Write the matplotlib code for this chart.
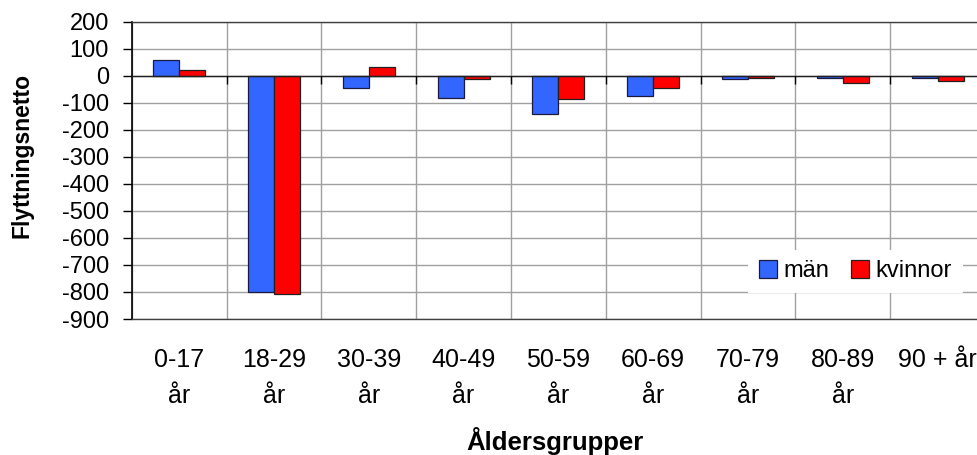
import matplotlib
matplotlib.use("Agg")
import matplotlib.pyplot as plt
import numpy as np

categories = ["0-17\når", "18-29\når", "30-39\når", "40-49\når", "50-59\når",
              "60-69\når", "70-79\når", "80-89\når", "90 + år"]
man = [57, -800, -44, -81, -143, -76, -13, -7, -7]
kvinnor = [20, -808, 31, -13, -87, -44, -7, -25, -19]
yticks = list(range(-900, 201, 100))

plt.rcParams['font.family'] = ['Liberation Sans', 'DejaVu Sans']

fig = plt.figure(figsize=(9.78, 4.55), dpi=100)
ax = fig.add_axes([0.1347, 0.2989, 1.0072 - 0.1347, 0.9523 - 0.2989])

x = np.arange(len(categories))
w = 0.275
ax.bar(x - w / 2, man, width=w, color='#3366FF', edgecolor='#1a1a40', linewidth=0.9,
       label='män', zorder=3)
ax.bar(x + w / 2, kvinnor, width=w, color='#FF0000', edgecolor='#202020', linewidth=0.9,
       label='kvinnor', zorder=3)

ax.set_xlim(-0.5, len(categories) - 0.5)
ax.set_ylim(-900, 200)
ax.set_yticks(yticks)
ax.set_yticklabels([str(v) for v in yticks], fontsize=17)
ax.tick_params(axis='y', direction='out', length=6.3, width=1, color='black', pad=10)

ax.set_xticks(x)
ax.set_xticklabels(categories, fontsize=18, linespacing=1.6)
ax.tick_params(axis='x', length=0, pad=21)
bounds = np.arange(len(categories) + 1) - 0.5
ax.set_xticks(bounds, minor=True)
ax.tick_params(axis='x', which='minor', length=0)

ax.grid(True, which='major', axis='y', color='#a0a0a0', linewidth=1, zorder=0)
ax.grid(True, which='minor', axis='x', color='#a0a0a0', linewidth=1, zorder=0)

ax.axhline(0, color='#202020', linewidth=1, zorder=4)
ax.vlines(bounds[1:-1], -30, 0, color='black', linewidth=1, zorder=4)

for s in ['top', 'bottom', 'right']:
    ax.spines[s].set_color('#404040')
    ax.spines[s].set_linewidth(1)
ax.spines['left'].set_color('black')
ax.spines['left'].set_linewidth(1.2)

ax.set_ylabel('Flyttningsnetto', fontsize=16.5, fontweight='bold')
ax.set_xlabel('Åldersgrupper', fontsize=18.5, fontweight='bold')
ax.xaxis.set_label_coords((555 - 131.7) / 853.3, -(450 - 319) / 297.3)
ax.xaxis.label.set_verticalalignment('baseline')
ax.yaxis.set_label_coords(-(131.7 - 22) / 853.3, (319 - 155.5) / 297.3)
ax.yaxis.label.set_verticalalignment('center')

leg = ax.legend(loc='center', bbox_to_anchor=(0.848, 0.161), ncol=2, fontsize=17,
                frameon=True, fancybox=False, edgecolor='none', facecolor='white',
                framealpha=1, handlelength=0.76, handleheight=0.76,
                handletextpad=0.3, columnspacing=0.9, borderpad=0.45)
leg.set_zorder(5)

fig.savefig('out.png', dpi=100)
